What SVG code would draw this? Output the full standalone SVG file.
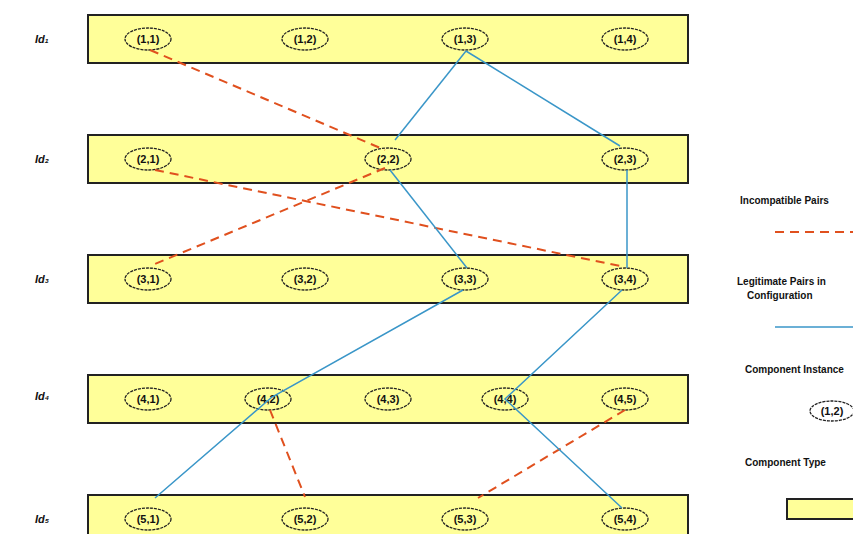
<svg xmlns="http://www.w3.org/2000/svg" width="853" height="534" viewBox="0 0 853 534">
<style>
.bar{fill:#FFFF99;stroke:#222;stroke-width:2}
.node{fill:none;stroke:#222;stroke-width:1.3;stroke-dasharray:3 1}
.nl{font-family:"Liberation Sans",Arial,sans-serif;font-size:11px;font-weight:bold;fill:#111;text-anchor:middle}
.rl{font-family:"Liberation Sans",Arial,sans-serif;font-size:11px;font-style:italic;font-weight:bold;fill:#111}
.lg{font-family:"Liberation Sans",Arial,sans-serif;font-size:10px;font-weight:bold;fill:#111}
.inc{stroke:#E0501E;stroke-width:2;stroke-dasharray:9 6;fill:none}
.leg{stroke:#3A96C8;stroke-width:1.5;fill:none}
</style>
<rect width="853" height="534" fill="#fff"/>
<g id="row1">
<text class="rl" x="35" y="43">Id₁</text>
<rect class="bar" x="88" y="15" width="600" height="48"/>
</g>
<g id="row2">
<text class="rl" x="35" y="163">Id₂</text>
<rect class="bar" x="88" y="135" width="600" height="48"/>
</g>
<g id="row3">
<text class="rl" x="35" y="283">Id₃</text>
<rect class="bar" x="88" y="255" width="600" height="48"/>
</g>
<g id="row4">
<text class="rl" x="35" y="400">Id₄</text>
<rect class="bar" x="88" y="375" width="600" height="48"/>
</g>
<g id="row5">
<text class="rl" x="35" y="523">Id₅</text>
<rect class="bar" x="88" y="495" width="600" height="48"/>
</g>
<g id="n11"><ellipse class="node" cx="148" cy="39" rx="23" ry="11"/><text class="nl" x="148" y="43">(1,1)</text></g>
<g id="n12"><ellipse class="node" cx="305" cy="39" rx="23" ry="11"/><text class="nl" x="305" y="43">(1,2)</text></g>
<g id="n13"><ellipse class="node" cx="465" cy="39" rx="23" ry="11"/><text class="nl" x="465" y="43">(1,3)</text></g>
<g id="n14"><ellipse class="node" cx="625" cy="39" rx="23" ry="11"/><text class="nl" x="625" y="43">(1,4)</text></g>
<g id="n21"><ellipse class="node" cx="148" cy="159" rx="23" ry="11"/><text class="nl" x="148" y="163">(2,1)</text></g>
<g id="n22"><ellipse class="node" cx="388" cy="159" rx="23" ry="11"/><text class="nl" x="388" y="163">(2,2)</text></g>
<g id="n23"><ellipse class="node" cx="625" cy="159" rx="23" ry="11"/><text class="nl" x="625" y="163">(2,3)</text></g>
<g id="n31"><ellipse class="node" cx="148" cy="279" rx="23" ry="11"/><text class="nl" x="148" y="283">(3,1)</text></g>
<g id="n32"><ellipse class="node" cx="305" cy="279" rx="23" ry="11"/><text class="nl" x="305" y="283">(3,2)</text></g>
<g id="n33"><ellipse class="node" cx="465" cy="279" rx="23" ry="11"/><text class="nl" x="465" y="283">(3,3)</text></g>
<g id="n34"><ellipse class="node" cx="625" cy="279" rx="23" ry="11"/><text class="nl" x="625" y="283">(3,4)</text></g>
<g id="n41"><ellipse class="node" cx="148" cy="399" rx="23" ry="11"/><text class="nl" x="148" y="403">(4,1)</text></g>
<g id="n42"><ellipse class="node" cx="268" cy="399" rx="23" ry="11"/><text class="nl" x="268" y="403">(4,2)</text></g>
<g id="n43"><ellipse class="node" cx="388" cy="399" rx="23" ry="11"/><text class="nl" x="388" y="403">(4,3)</text></g>
<g id="n44"><ellipse class="node" cx="505" cy="399" rx="23" ry="11"/><text class="nl" x="505" y="403">(4,4)</text></g>
<g id="n45"><ellipse class="node" cx="625" cy="399" rx="23" ry="11"/><text class="nl" x="625" y="403">(4,5)</text></g>
<g id="n51"><ellipse class="node" cx="148" cy="519" rx="23" ry="11"/><text class="nl" x="148" y="523">(5,1)</text></g>
<g id="n52"><ellipse class="node" cx="305" cy="519" rx="23" ry="11"/><text class="nl" x="305" y="523">(5,2)</text></g>
<g id="n53"><ellipse class="node" cx="465" cy="519" rx="23" ry="11"/><text class="nl" x="465" y="523">(5,3)</text></g>
<g id="n54"><ellipse class="node" cx="625" cy="519" rx="23" ry="11"/><text class="nl" x="625" y="523">(5,4)</text></g>
<g id="connectors">
<path class="inc" d="M150 50 L385 150"/>
<path class="inc" d="M155 170 L620 266"/>
<path class="inc" d="M385 168 L150 266"/>
<path class="inc" d="M270 410 L305 497"/>
<path class="inc" d="M625 410 L478 498"/>
<path class="leg" d="M466 51 L395 140"/>
<path class="leg" d="M466 51 L620 146"/>
<path class="leg" d="M627 170 L627 268"/>
<path class="leg" d="M390 170 L467 268"/>
<path class="leg" d="M463 290 L272 397 L155 498"/>
<path class="leg" d="M622 290 L505 399 L622 508"/>
</g>
<g id="legend">
<text class="lg" x="740" y="204">Incompatible Pairs</text>
<path class="inc" d="M775 232 L853 232"/>
<text class="lg" x="737" y="285">Legitimate Pairs in</text>
<text class="lg" x="747" y="299">Configuration</text>
<path class="leg" d="M775 327 L853 327"/>
<text class="lg" x="745" y="373">Component Instance</text>
<g id="legnode"><ellipse class="node" cx="832" cy="411" rx="22" ry="10"/><text class="nl" x="832" y="415">(1,2)</text></g>
<text class="lg" x="745" y="466">Component Type</text>
<rect class="bar" x="787" y="499" width="80" height="20"/>
</g>
</svg>
